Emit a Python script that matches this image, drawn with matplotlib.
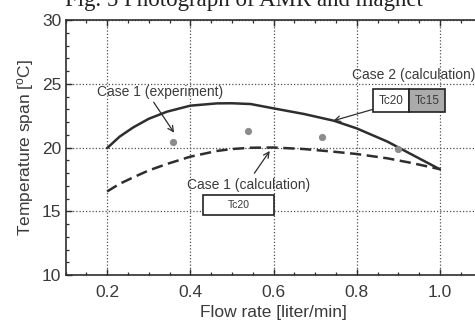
import matplotlib
matplotlib.use("Agg")
import matplotlib.pyplot as plt
from matplotlib.patches import Rectangle
from matplotlib.ticker import MultipleLocator

plt.rcParams['font.family'] = ['Liberation Sans', 'DejaVu Sans']
plt.rcParams['mathtext.fontset'] = 'custom'
plt.rcParams['mathtext.rm'] = 'Liberation Sans'
plt.rcParams['mathtext.default'] = 'regular'

# Calculated temperature span, Case 2 (solid) and Case 1 (dashed)
flow_calc = [0.20, 0.23, 0.263, 0.30, 0.344, 0.40, 0.464, 0.50, 0.545, 0.60,
             0.673, 0.745, 0.80, 0.874, 0.93, 1.00]
span_case2 = [19.95, 20.85, 21.58, 22.25, 22.81, 23.28, 23.46, 23.47, 23.41, 23.07,
              22.63, 22.10, 21.50, 20.46, 19.49, 18.29]
span_case1_calc = [16.55, 17.15, 17.66, 18.20, 18.71, 19.28, 19.73, 19.88, 19.98, 20.00,
                   19.88, 19.67, 19.49, 19.15, 18.80, 18.30]

# Measured temperature span, Case 1
flow_exp = [0.358, 0.538, 0.717, 0.900]
span_exp = [20.46, 21.29, 20.85, 19.90]

x_ticks = [0.2, 0.4, 0.6, 0.8, 1.0]
x_ticklabels = ['0.2', '0.4', '0.6', '0.8', '1.0']
y_ticks = [10, 15, 20, 25, 30]

W, H = 475, 327
fig = plt.figure(figsize=(W / 100, H / 100), dpi=100)
ax = fig.add_axes([65.5 / W, 1 - 275 / H, (481.5 - 65.5) / W, (275 - 20) / H])

dark = '#2e2e2e'
txt = '#3a3a3a'

ax.plot(flow_calc, span_case2, color=dark, lw=1.8, solid_capstyle='round',
        solid_joinstyle='round', zorder=3)
ax.plot(flow_calc, span_case1_calc, color=dark, lw=1.8, dashes=(4.5, 2.2), zorder=3)
ax.plot(flow_exp, span_exp, 'o', color='#8c8c8c', ms=5.2, mec='none', zorder=4)

ax.set_xlim(0.1, 1.1)
ax.set_ylim(10, 30)
ax.set_xticks(x_ticks)
ax.set_xticklabels(x_ticklabels)
ax.set_yticks(y_ticks)
ax.xaxis.set_minor_locator(MultipleLocator(0.05))
ax.yaxis.set_minor_locator(MultipleLocator(1))
ax.tick_params(which='both', direction='in', colors=dark, labelcolor=txt,
               top=True, right=True, labelsize=12.5)
ax.tick_params(which='major', length=4, width=1.0)
ax.tick_params(which='minor', length=2.5, width=0.9)
ax.tick_params(axis='x', pad=7)
ax.tick_params(axis='y', pad=3)
for s in ax.spines.values():
    s.set_color(dark)
    s.set_linewidth(1.2)

ax.grid(True, which='major', linestyle=(0, (1, 1.6)), color='#505050', lw=0.9)

ax.set_xlabel('Flow rate [liter/min]', fontsize=12.5, color=txt, labelpad=4)
ax.set_ylabel('Temperature span [$^{o}$C]', fontsize=12.5, color=txt, labelpad=4)

arrow = dict(arrowstyle='->', color=dark, lw=0.9, shrinkA=0, shrinkB=0)
ax.text(0.328, 24.35, 'Case 1 (experiment)', ha='center', va='center',
        fontsize=10, color=txt)
ax.annotate('', xy=(0.361, 21.16), xytext=(0.312, 23.55), arrowprops=arrow)

ax.text(0.936, 25.69, 'Case 2 (calculation)', ha='center', va='center',
        fontsize=10, color=txt)
ax.annotate('', xy=(0.744, 22.10), xytext=(0.840, 23.00), arrowprops=arrow)

ax.text(0.539, 17.06, 'Case 1 (calculation)', ha='center', va='center',
        fontsize=10, color=txt)
ax.annotate('', xy=(0.591, 19.73), xytext=(0.554, 17.98), arrowprops=arrow)

# Curie-temperature boxes
ax.add_patch(Rectangle((0.840, 22.81), 0.086, 1.75, fc='white', ec='#222222', lw=1.2, zorder=5))
ax.add_patch(Rectangle((0.926, 22.81), 0.086, 1.75, fc='#ababab', ec='#222222', lw=1.2, zorder=5))
ax.text(0.883, 23.68, 'Tc20', ha='center', va='center', fontsize=8.5, color=txt, zorder=6)
ax.text(0.969, 23.68, 'Tc15', ha='center', va='center', fontsize=8.5, color=txt, zorder=6)
ax.add_patch(Rectangle((0.430, 14.71), 0.171, 1.56, fc='white', ec='#222222', lw=1.2, zorder=5))
ax.text(0.5155, 15.49, 'Tc20', ha='center', va='center', fontsize=7.5, color=txt, zorder=6)

fig.text(244 / W, 1 - 6 / H, 'Fig. 5 Photograph of AMR and magnet',
         family='Liberation Serif', fontsize=16.5, color='#222222',
         ha='center', va='baseline')

fig.savefig('out.png', dpi=100)
